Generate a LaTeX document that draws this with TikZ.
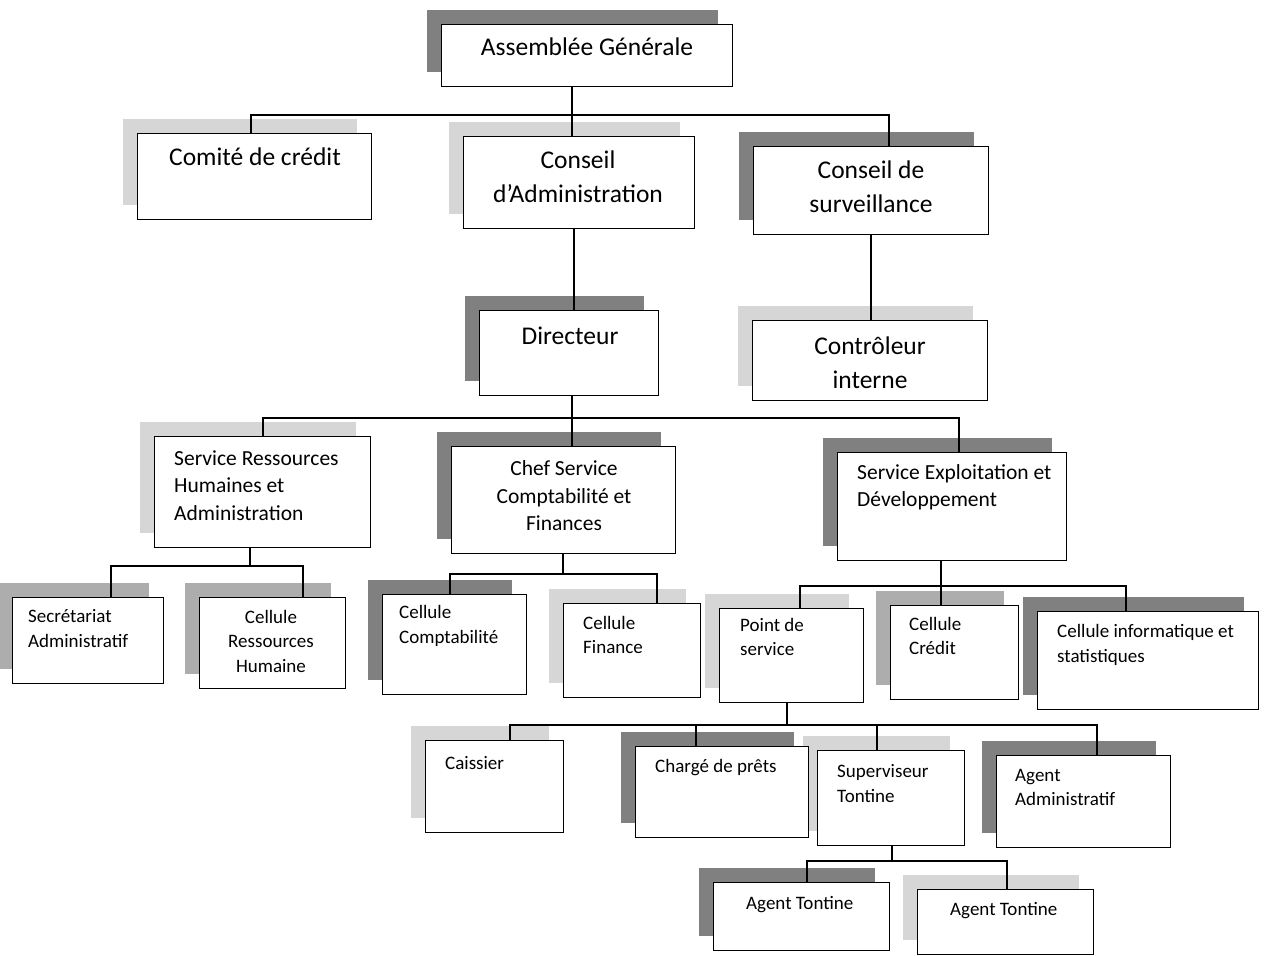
\documentclass[tikz,border=0pt]{standalone}
\usepackage{fontspec}
\setmainfont{Carlito}
\usetikzlibrary{backgrounds}
\newcommand\orgbox[6]{%
  \begin{pgfonlayer}{background}
    \fill[#6] (#2-14,#3-14) rectangle (#4-14,#5-14);
  \end{pgfonlayer}
  \node[box,minimum width=#4pt-#2pt,minimum height=#5pt-#3pt] (#1) at (#2,#3) {};}
\begin{document}
\begin{tikzpicture}[x=1pt,y=-1pt,
  box/.style={draw=black,fill=white,line width=1.3pt,inner sep=0pt,anchor=north west},
  ln/.style={draw=black,line width=1.3pt},
  shA/.style={fill=black!50},
  shB/.style={fill=black!32},
  shC/.style={fill=black!16},
  big/.style={font=\fontsize{25.5}{34}\selectfont,inner sep=0pt},
  mid/.style={font=\fontsize{21.5}{27.5}\selectfont,inner sep=0pt},
  sml/.style={font=\fontsize{19}{24.5}\selectfont,inner sep=0pt}]
\begin{pgfonlayer}{background}
  \fill[white] (0,0) rectangle (1264,956);
\end{pgfonlayer}
\useasboundingbox (0,0) rectangle (1264,956);

% boxes: name, left, top, right, bottom, shadow
\orgbox{ag}{441}{24}{732}{86}{shA}
\orgbox{com}{137}{133}{371}{219}{shC}
\orgbox{ca}{463}{136}{694}{228}{shC}
\orgbox{cs}{753}{146}{988}{234}{shA}
\orgbox{dir}{479}{310}{658}{395}{shA}
\orgbox{ctl}{752}{320}{987}{400}{shC}
\orgbox{srh}{154}{436}{370}{547}{shC}
\orgbox{chef}{451}{446}{675}{553}{shA}
\orgbox{se}{837}{452}{1066}{560}{shA}
\orgbox{sec}{12}{597}{163}{683}{shB}
\orgbox{crh}{199}{597}{345}{688}{shB}
\orgbox{ccp}{382}{594}{526}{694}{shA}
\orgbox{cfi}{563}{603}{700}{697}{shC}
\orgbox{pds}{719}{608}{863}{702}{shC}
\orgbox{ccr}{890}{605}{1018}{699}{shB}
\orgbox{cis}{1037}{611}{1258}{709}{shA}
\orgbox{cai}{425}{740}{563}{832}{shC}
\orgbox{chp}{635}{746}{808}{837}{shA}
\orgbox{sup}{817}{750}{964}{845}{shC}
\orgbox{aad}{996}{755}{1170}{847}{shA}
\orgbox{at1}{713}{882}{889}{950}{shA}
\orgbox{at2}{917}{889}{1093}{954}{shC}

% texts
\node[big] (tag) at (587,47) {Assemblée Générale};
\node[big] (tcom) at (255,157) {Comité de crédit};
\node[big,align=center] (tca) at (578,177) {Conseil\\d’Administration};
\node[big,align=center] (tcs) at (871,187) {Conseil de\\surveillance};
\node[big] (tdir) at (570,336) {Directeur};
\node[big,align=center] (tctl) at (870,363) {Contrôleur\\interne};
\node[mid,align=left,anchor=west] (tsrh) at (174,485.5) {Service Ressources\\Humaines et\\Administration};
\node[mid,align=center] (tchef) at (564,496) {Chef Service\\Comptabilité et\\Finances};
\node[mid,align=left,anchor=west] (tse) at (857,487.5) {Service Exploitation et\\Développement};
\node[sml,align=left,anchor=west] (tsec) at (28,628.5) {Secrétariat\\Administratif};
\node[sml,align=center] (tcrh) at (271,641) {Cellule\\Ressources\\Humaine};
\node[sml,align=left,anchor=west] (tccp) at (399,626) {Cellule\\Comptabilité};
\node[sml,align=left,anchor=west] (tcfi) at (583,635) {Cellule\\Finance};
\node[sml,align=left,anchor=west] (tpds) at (740,637) {Point de\\service};
\node[sml,align=left,anchor=west] (tccr) at (909,636) {Cellule\\Crédit};
\node[sml,align=left,anchor=west] (tcis) at (1057,645) {Cellule informatique et\\statistiques};
\node[sml,anchor=west] (tcai) at (445,763) {Caissier};
\node[sml,anchor=west] (tchp) at (655,768) {Chargé de prêts};
\node[sml,align=left,anchor=west] (tsup) at (837,783.5) {Superviseur\\Tontine};
\node[sml,align=left,anchor=west] (taad) at (1015,787.5) {Agent\\Administratif};
\node[sml,anchor=west] (tat1) at (746,905) {Agent Tontine};
\node[sml,anchor=west] (tat2) at (950,911) {Agent Tontine};

% connectors
\coordinate (b1l) at (251,115); \coordinate (b1r) at (889,115); \coordinate (v1) at (572,115);
\draw[ln] (com.north -| b1l) -- (b1l) -- (b1r) -- (cs.north -| b1r);
\draw[ln] (ag.south -| v1) -- (ca.north -| v1);

\coordinate (v2) at (574,0);
\draw[ln] (ca.south -| v2) -- (dir.north -| v2);
\coordinate (v3) at (871,0);
\draw[ln] (cs.south -| v3) -- (ctl.north -| v3);

\coordinate (b3l) at (263,418); \coordinate (b3r) at (959,418); \coordinate (v4) at (572,418);
\draw[ln] (srh.north -| b3l) -- (b3l) -- (b3r) -- (se.north -| b3r);
\draw[ln] (dir.south -| v4) -- (chef.north -| v4);

\coordinate (b4l) at (111,566); \coordinate (b4r) at (303,566); \coordinate (v5) at (250,566);
\draw[ln] (sec.north -| b4l) -- (b4l) -- (b4r) -- (crh.north -| b4r);
\draw[ln] (srh.south -| v5) -- (v5);

\coordinate (b5l) at (450,574); \coordinate (b5r) at (657,574); \coordinate (v6) at (563,574);
\draw[ln] (ccp.north -| b5l) -- (b5l) -- (b5r) -- (cfi.north -| b5r);
\draw[ln] (chef.south -| v6) -- (v6);

\coordinate (b6l) at (800,586); \coordinate (b6r) at (1126,586); \coordinate (v7) at (941,586);
\draw[ln] (pds.north -| b6l) -- (b6l) -- (b6r) -- (cis.north -| b6r);
\draw[ln] (se.south -| v7) -- (ccr.north -| v7);

\coordinate (b7l) at (510,725); \coordinate (b7r) at (1097,725); \coordinate (v8) at (787,725);
\coordinate (d1) at (696,725); \coordinate (d2) at (877,725);
\draw[ln] (cai.north -| b7l) -- (b7l) -- (b7r) -- (aad.north -| b7r);
\draw[ln] (pds.south -| v8) -- (v8);
\draw[ln] (d1) -- (chp.north -| d1);
\draw[ln] (d2) -- (sup.north -| d2);

\coordinate (b8l) at (807,861); \coordinate (b8r) at (1007,861); \coordinate (v9) at (892,861);
\draw[ln] (at1.north -| b8l) -- (b8l) -- (b8r) -- (at2.north -| b8r);
\draw[ln] (sup.south -| v9) -- (v9);
\end{tikzpicture}
\end{document}
